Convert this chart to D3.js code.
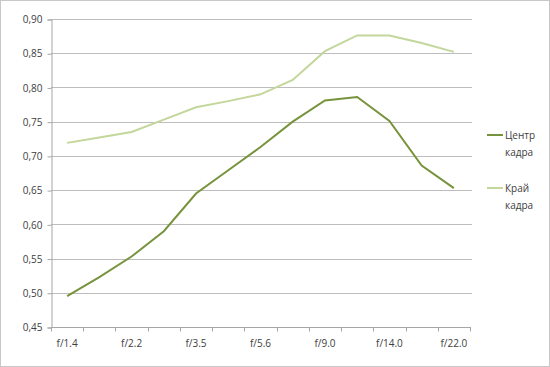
<!DOCTYPE html>
<meta charset="utf-8">
<html>
<style>
 body { margin:0; background:#fff; }
 svg text { font-family: "Open Sans", "Noto Sans", sans-serif; fill:#404040; }
</style>
<script src="https://d3js.org/d3.v7.min.js"></script>
<svg width="550" height="367"></svg>
<script>
// 13 diaphragm stops, every other one labelled on the axis
const stops = ['f/1.4','f/1.8','f/2.2','f/2.8','f/3.5','f/4.5','f/5.6','f/7.1','f/9.0','f/11','f/14.0','f/18','f/22.0'];
const shownStops = ['f/1.4','f/2.2','f/3.5','f/5.6','f/9.0','f/14.0','f/22.0'];
const center = [0.495,0.523,0.553,0.590,0.645,0.679,0.713,0.750,0.781,0.786,0.751,0.686,0.653];
const edge   = [0.719,0.727,0.735,0.753,0.771,0.780,0.790,0.811,0.853,0.876,0.876,0.865,0.852];
const yTicks = [0.45,0.50,0.55,0.60,0.65,0.70,0.75,0.80,0.85,0.90];
const seriesNames = ['Центр кадра','Край кадра'];

const svg = d3.select('svg');
const plotL = 51, plotR = 470, plotT = 19, plotB = 327;
const darkColor = '#77933c', lightColor = '#c3d69b';

// outer frame
svg.append('rect')
	.attr('x',0.5).attr('y',0.5)
	.attr('width',549).attr('height',366)
	.attr('fill','none').attr('stroke','#c8c8c8');

const x = d3.scaleBand().domain(stops).range([plotL,plotR]);
const y = d3.scaleLinear().domain([0.45,0.90]).range([plotB,plotT]);

// gridlines
svg.append('g')
	.selectAll('line')
	.data(yTicks.slice(1))
	.join('line')
	.attr('x1',plotL).attr('x2',plotR+2)
	.attr('y1',d=>Math.round(y(d))+0.5).attr('y2',d=>Math.round(y(d))+0.5)
	.attr('stroke','#bdbdbd').attr('stroke-width',1.2);

// y axis
const yAxis = d3.axisLeft(y).tickValues(yTicks).tickSize(4)
	.tickFormat(d=>d3.format('.2f')(d).replace('.',','));
const gy = svg.append('g').attr('transform',`translate(${plotL+0.5},0.5)`).call(yAxis);
gy.select('.domain').attr('stroke','#a6a6a6');
gy.selectAll('.tick line').attr('stroke','#a6a6a6');
gy.selectAll('.tick text').attr('x',-9).attr('font-size',10).style('fill','#404040');

// x axis: ticks between categories
const gx = svg.append('g').attr('transform',`translate(0,${plotB+0.5})`);
gx.append('line').attr('x1',plotL).attr('x2',plotR+1).attr('stroke','#a6a6a6');
gx.selectAll('line.t')
	.data(stops.concat(['end']))
	.join('line').attr('class','t')
	.attr('x1',(d,i)=>i<stops.length? Math.round(x(d))+0.5 : plotR+0.5)
	.attr('x2',(d,i)=>i<stops.length? Math.round(x(d))+0.5 : plotR+0.5)
	.attr('y1',0).attr('y2',4)
	.attr('stroke','#a6a6a6');
gx.selectAll('text')
	.data(shownStops)
	.join('text')
	.attr('x',d=>x(d)+x.bandwidth()/2)
	.attr('y',19)
	.attr('text-anchor','middle')
	.attr('font-size',10)
	.text(d=>d);

// lines
const line = d3.line()
	.x((d,i)=>x(stops[i])+x.bandwidth()/2)
	.y(d=>y(d));
svg.append('path').datum(edge)
	.attr('d',line).attr('fill','none')
	.attr('stroke',lightColor).attr('stroke-width',2);
svg.append('path').datum(center)
	.attr('d',line).attr('fill','none')
	.attr('stroke',darkColor).attr('stroke-width',2);

// legend
const legend = svg.append('g').attr('transform','translate(487,0)');
[[darkColor,135],[lightColor,188]].forEach(([c,ly],i)=>{
	legend.append('line').attr('x1',0).attr('x2',16)
		.attr('y1',ly).attr('y2',ly)
		.attr('stroke',c).attr('stroke-width',2);
	const words = seriesNames[i].split(' ');
	legend.append('text').attr('x',18).attr('y',ly+4).attr('font-size',10).text(words[0]);
	legend.append('text').attr('x',18).attr('y',ly+21).attr('font-size',10).text(words[1]);
});
</script>
</html>
